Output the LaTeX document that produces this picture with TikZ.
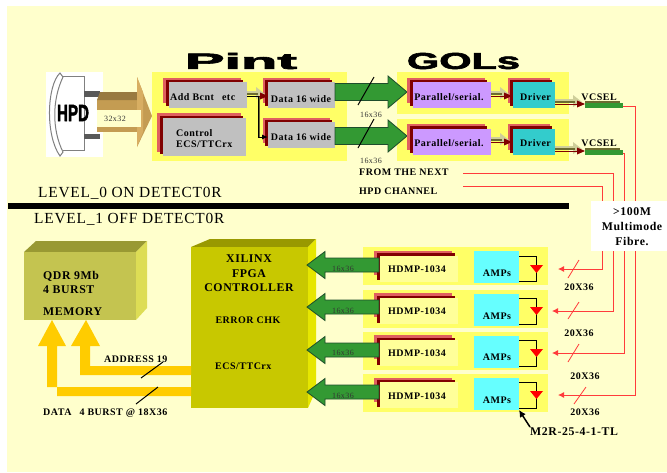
\documentclass[tikz,border=0pt]{standalone}
\usepackage{graphicx}
\usepackage{fontspec}
\setmainfont{Liberation Serif}
\newfontfamily\lab[LetterSpace=5]{Liberation Serif}
\newfontfamily\heavy[FakeBold=2.5]{Liberation Sans}
\usetikzlibrary{arrows.meta,calc}
\definecolor{bgy}{HTML}{FFFFCC}
\definecolor{pnl}{HTML}{FFFF66}
\definecolor{pk}{HTML}{E06060}
\definecolor{dr}{HTML}{800000}
\definecolor{gy}{HTML}{C0C0C0}
\definecolor{pur}{HTML}{CC99FF}
\definecolor{cy}{HTML}{33CCCC}
\definecolor{lcy}{HTML}{66FFFF}
\definecolor{lty}{HTML}{FFFF99}
\definecolor{grn}{HTML}{339933}
\definecolor{dgrn}{HTML}{1E4D2B}
\definecolor{gold}{HTML}{FFCC00}
\definecolor{tanb}{HTML}{C49C52}
\definecolor{tanl}{HTML}{D8AE62}
\definecolor{tand}{HTML}{997A40}
\definecolor{pale}{HTML}{CFCF9A}
\definecolor{oliv}{HTML}{6B6B30}
\definecolor{rl}{HTML}{FF3B3B}
\definecolor{qtop}{HTML}{999933}
\definecolor{qside}{HTML}{DDDD55}
\definecolor{qfront}{HTML}{C4C450}
\definecolor{ftop}{HTML}{999900}
\definecolor{fside}{HTML}{E6E600}
\definecolor{ffront}{HTML}{C8C800}
\tikzset{
  x=1pt,y=-1pt,
  bxs/.style={inner sep=0pt,outer sep=0pt,draw=none},
  lbl/.style={inner sep=0pt,font=\lab\bfseries\fontsize{10}{10}\selectfont,text=black},
  lblb/.style={lbl,font=\lab\bfseries\fontsize{11.8}{11.8}\selectfont},
  thin16/.style={inner sep=0pt,font=\lab\fontsize{8}{8}\selectfont,text=black!80},
  levl/.style={inner sep=0pt,anchor=west,font=\lab\fontsize{15.4}{15.4}\selectfont,text=black},
  redl/.style={draw=rl,line width=0.85pt},
  reda/.style={redl,-{Latex[length=6pt,width=6pt]}},
  slash/.style={draw=black,line width=1pt},
  redslash/.style={draw=rl,line width=0.8pt},
  grnb/.style={fill=grn,draw=dgrn,line width=0.8pt},
  ampw/.style={draw=black,line width=0.8pt},
}
\newcommand{\bx}[6]{\node[bxs,#6,anchor=north west,minimum width={(#4-#2)*1pt},minimum height={(#5-#3)*1pt}] (#1) at (#2,#3) {};}
% small double arrow: x1 start, xt tip, y = centre of head
\newcommand{\dbl}[3]{%
  \fill[pale] (#1,#3-5) rectangle (#2-8,#3-3);
  \fill[pale] (#2-12,#3-9) -- (#2-3,#3-2) -- (#2-12,#3+3) -- cycle;
  \fill[oliv] (#1,#3-3) rectangle (#2-10,#3-1.5);
  \fill[dr] (#1,#3-0.5) rectangle (#2-6,#3+1.2);
  \fill[dr] (#2-8,#3-3.5) -- (#2,#3) -- (#2-8,#3+3.5) -- cycle;
}
\newcommand{\grnright}[1]{%
  \path[grnb] (335,#1-8.5) -- (388,#1-8.5) -- (388,#1-16) -- (407,#1) -- (388,#1+16) -- (388,#1+8.5) -- (335,#1+8.5) -- cycle;
}
\newcommand{\grnleft}[1]{%
  \path[grnb] (379,#1-7) -- (325,#1-7) -- (325,#1-13.5) -- (307,#1) -- (325,#1+13.5) -- (325,#1+7) -- (379,#1+7) -- cycle;
}
\begin{document}
\begin{tikzpicture}
\useasboundingbox (0,0) rectangle (667,472);
\fill[white] (0,0) rectangle (667,472);
\fill[bgy] (7,6) rectangle (667,472);

% --- HPD
\bx{hpdbg}{46}{72}{103}{157}{fill=white}
\draw[gray,line width=1pt] (60,73) .. controls (47,85) and (45,135) .. (60,156) -- (63,152) .. controls (52,130) and (52,100) .. (63,77) -- cycle;
\draw[gray,line width=1pt] (63,76) -- (84,76) -- (84,150) -- (63,150);
\fill[black!65] (84,91) rectangle (100,97);
\fill[black!65] (84,134) rectangle (100,139);
\node[inner sep=0pt] (hpdtxt) at (73,113) {\resizebox{32pt}{16pt}{\heavy\bfseries HPD}};

% --- tan arrow
\fill[tanb] (97,100) rectangle (138,132);
\fill[tand] (97,100) -- (100,92) -- (137,92) -- (137,100) -- cycle;
\fill[tanb] (137,77) -- (152,116) -- (137,147) -- cycle;
\fill[tanl] (137,77) -- (143,92) -- (143,132) -- (137,147) -- cycle;
\fill[bgy] (97,110) rectangle (141,127);
\node[thin16] (n32) at (115,119) {32x32};

% --- panels
\bx{pintp}{152}{72}{347}{161}{fill=pnl}
\bx{golA}{397}{72}{569}{114}{fill=pnl}
\bx{golB}{397}{119}{569}{161}{fill=pnl}
\node[inner sep=0pt] (pinttitle) at (241,61) {\resizebox{112pt}{16pt}{\heavy\bfseries Pint}};
\node[inner sep=0pt] (goltitle) at (463.5,61) {\resizebox{113pt}{16pt}{\heavy\bfseries GOLs}};

% --- Pint blocks
\bx{addP}{163}{78}{241}{103}{fill=pk}
\bx{addR}{166}{80}{243}{106}{fill=dr}
\bx{add}{169}{82}{247}{108}{fill=gy}
\node[lbl,anchor=west] (addt) at (170,97) {Add Bcnt\hspace{5pt} etc};
\bx{ctlP}{157}{113}{241}{152}{fill=pk}
\bx{ctlR}{160}{116}{243}{154}{fill=dr}
\bx{ctl}{163}{118}{246}{156}{fill=gy}
\node[lbl,anchor=west] (ctlt1) at (176,133) {Control};
\node[lbl,anchor=west] (ctlt2) at (176,144.5) {ECS/TTCrx};
\bx{dat1P}{263}{78}{330}{103}{fill=pk}
\bx{dat1R}{265}{80}{332}{106}{fill=dr}
\bx{dat1}{268}{82}{335}{108}{fill=gy}
\node[lbl] (dat1t) at (301,99) {Data 16 wide};
\bx{dat2P}{263}{118}{330}{143}{fill=pk}
\bx{dat2R}{265}{120}{332}{146}{fill=dr}
\bx{dat2}{268}{122}{335}{148}{fill=gy}
\node[lbl] (dat2t) at (301,137) {Data 16 wide};
\dbl{247}{268}{96}
\draw[oliv,line width=0.8pt] (259,97) -- (259,137);
\draw[black,line width=1pt] (add.east |- 0,96) -- (258,96) -- (258,137);
\draw[black,line width=1pt,-{Latex[length=6pt,width=5pt]}] (258,137) -- (dat2.west |- 0,137);

% --- Green arrows top
\grnright{92}
\grnright{136}
\draw[slash] (374,77) -- (358,105);
\draw[slash] (374,119) -- (358,148);
\node[thin16] (t16a) at (371,115) {16x36};
\node[thin16] (t16b) at (371,161) {16x36};

% --- GOL blocks
\bx{parAP}{407}{78}{485}{103}{fill=pk}
\bx{parAR}{410}{80}{487}{106}{fill=dr}
\bx{parA}{413}{82}{491}{108}{fill=pur}
\node[lbl] (parAt) at (449,97) {Parallel/serial.};
\bx{parBP}{407}{124}{485}{150}{fill=pk}
\bx{parBR}{410}{126}{487}{153}{fill=dr}
\bx{parB}{413}{129}{491}{155}{fill=pur}
\node[lbl] (parBt) at (449,143) {Parallel/serial.};
\bx{drvAP}{508}{78}{550}{103}{fill=pk}
\bx{drvAR}{510}{80}{552}{106}{fill=dr}
\dbl{491}{512}{96}
\bx{drvA}{513}{82}{555}{108}{fill=cy}
\node[lbl] (drvAt) at (535.5,97) {Driver};
\bx{drvBP}{508}{124}{550}{150}{fill=pk}
\bx{drvBR}{510}{126}{552}{153}{fill=dr}
\dbl{491}{512}{142}
\bx{drvB}{513}{129}{555}{155}{fill=cy}
\node[lbl] (drvBt) at (535.5,143) {Driver};

% --- VCSEL
\fill[oliv] (585,101) rectangle (620,103);
\bx{vcA}{585}{103}{623}{108}{fill=grn}
\node[lbl] (vcAt) at (599,97) {VCSEL};
\fill[oliv] (585,148) rectangle (620,150);
\bx{vcB}{585}{150}{623}{155}{fill=grn}
\node[lbl] (vcBt) at (599,143) {VCSEL};
\dbl{555}{585}{104}
\dbl{555}{585}{151}

% --- notes
\node[lbl,anchor=west] (fromt) at (359,172.5) {FROM THE NEXT};
\node[lbl,anchor=west] (hpdc) at (359,191) {HPD CHANNEL};

% --- divider and levels
\fill[black] (8,203) rectangle (569,209);
\node[levl] (lev0) at (38,193) {LEVEL\_0 ON DETECT0R};
\node[levl] (lev1) at (34,219) {LEVEL\_1 OFF DETECT0R};

% --- red lines
\coordinate (tipA) at (558,269);
\coordinate (tipB) at (552,311);
\coordinate (tipC) at (552,353);
\coordinate (tipD) at (558,395);
\coordinate (fromS) at (463,173);
\coordinate (hpdS) at (463,186);
\draw[redl] (vcA.east |- 0,106) -- (635,106) -- (635,395) -- (600,395);
\draw[reda] (600,395) -- (tipD);
\draw[redl] (vcB.east |- 0,153) -- (624,153) -- (624,353) -- (600,353);
\draw[reda] (600,353) -- (tipC);
\draw[redl] (fromS) -- (613,173) -- (613,311) -- (600,311);
\draw[reda] (600,311) -- (tipB);
\draw[redl] (hpdS) -- (602,186) -- (602,269) -- (590,269);
\draw[reda] (590,269) -- (tipA);
\draw[redslash] (579,260) -- (568,278);
\draw[redslash] (579,302) -- (568,319);
\draw[redslash] (579,344) -- (568,362);
\draw[redslash] (586,387) -- (574,404);
\node[lbl] (s20a) at (579,287) {20X36};
\node[lbl] (s20b) at (579,333) {20X36};
\node[lbl] (s20c) at (585,376) {20X36};
\node[lbl] (s20d) at (585,412) {20X36};

% --- fibre box
\bx{fibre}{591}{201}{667}{251}{fill=white}
\node[lblb] (fib1) at (632,212) {>100M};
\node[lblb] (fib2) at (632,226) {Multimode};
\node[lblb] (fib3) at (632,241) {Fibre.};

% --- QDR memory
\fill[qtop] (24,252) -- (36,241) -- (147,241) -- (136,252) -- cycle;
\fill[qside] (136,252) -- (147,241) -- (147,308) -- (136,320) -- cycle;
\bx{qdr}{24}{252}{136}{320}{fill=qfront}
\node[lblb,anchor=west] (q1) at (43,276) {QDR 9Mb};
\node[lblb,anchor=west] (q2) at (43,290) {4 BURST};
\node[lblb,anchor=west] (q3) at (43,312) {MEMORY};

% --- FPGA
\fill[ftop] (191,247) -- (210,239) -- (316,239) -- (308,247) -- cycle;
\fill[fside] (308,247) -- (316,239) -- (316,390) -- (308,408) -- cycle;
\bx{fpga}{191}{247}{308}{408}{fill=ffront}
\node[lblb] (f1) at (249,259) {XILINX};
\node[lblb] (f2) at (249,274) {FPGA};
\node[lblb] (f3) at (249,288) {CONTROLLER};
\node[lbl] (f4) at (248,320) {ERROR CHK};
\node[lbl,anchor=west] (f5) at (215,366) {ECS/TTCrx};

% --- gold arrows
\fill[gold] (fpga.west |- 0,387) -- (47,387) -- (47,346) -- (38,346) -- (52,320) -- (66,346) -- (57,346) -- (57,396) -- (fpga.west |- 0,396) -- cycle;
\fill[gold] (fpga.west |- 0,366) -- (90,366) -- (90,346) -- (100,346) -- (86,320) -- (71,346) -- (80,346) -- (80,375) -- (fpga.west |- 0,375) -- cycle;
\draw[slash] (163,362) -- (141,378);
\draw[slash] (158,387) -- (136,404);
\node[lbl,anchor=west] (addr) at (104,359) {ADDRESS 19};
\node[lbl,anchor=west] (dat4) at (43,413) {DATA\hspace{5pt} 4 BURST @ 18X36};

% --- receiver rows
\foreach \n/\yb/\yp/\yr/\yf/\ya/\ytop/\ybot/\ytri/\ytxt/\yamp/\ytip in {
  a/247/251/253/256/251/256/281/265/269/273/265,
  b/290/293/296/298/294/298/324/307/311/316/307,
  c/332/335/338/340/336/340/366/349/353/357/350,
  d/374/378/380/382/378/382/408/391/396/400/392}{
  \bx{row\n}{363}{\yb}{548}{\yb+38}{fill=pnl}
  \bx{hd\n P}{374}{\yp}{452}{\yp+24}{fill=pk}
  \bx{hd\n R}{377}{\yr}{455}{\yr+27}{fill=dr}
  \bx{hd\n}{380}{\yf}{458}{\yf+26}{fill=lty}
  \node[lbl] (hd\n t) at (417,\ytxt) {HDMP-1034};
  \draw[oliv,line width=0.8pt] (519,\ytop+0.8) -- (536.8,\ytop+0.8) -- (536.8,\ybot+0.8) -- (519,\ybot+0.8);
  \draw[ampw] (519,\ytop) -- (536,\ytop) -- (536,\ybot) -- (519,\ybot);
  \fill[red] (530,\ytri) -- (543,\ytri) -- (536.5,\ytri+8) -- cycle;
  \bx{amp\n}{474}{\ya}{519}{\ya+32}{fill=lcy}
  \node[lbl] (amp\n t) at (497,\yamp) {AMPs};
  \grnleft{\ytip}
  \node[thin16] (g\n) at (343,\ytxt) {16x36};
}
\coordinate (m2rS) at (530,427);
\node[lblb,anchor=west] (m2r) at (530,432) {M2R-25-4-1-TL};
\draw[black,line width=1.5pt,-{Latex[length=7pt,width=7pt]}] (m2rS) -- (ampd.south east);
\end{tikzpicture}
\end{document}
